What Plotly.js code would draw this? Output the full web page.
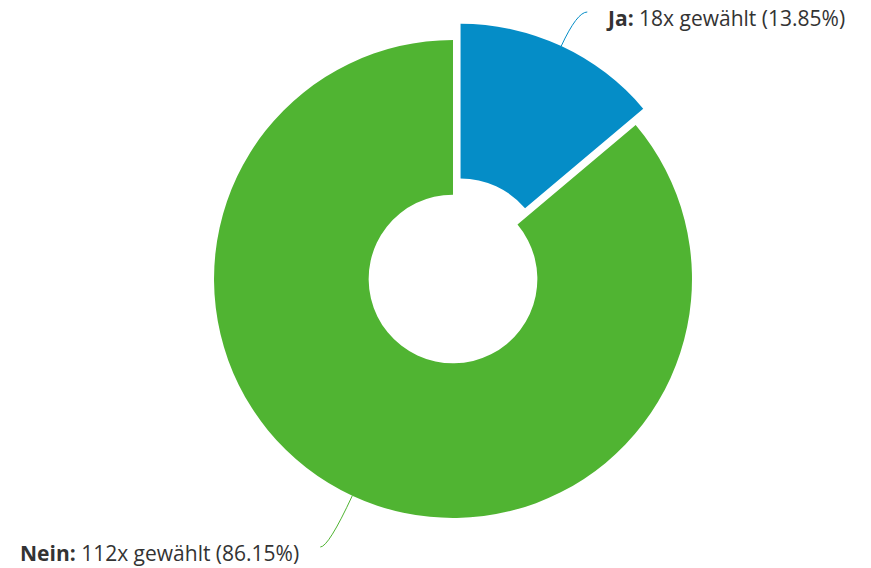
<!DOCTYPE html>
<html>
<head>
<meta charset="utf-8">
<script src="https://cdn.plot.ly/plotly-3.0.1.min.js"></script>
<style>html,body{margin:0;padding:0;background:#fff;}#chart{width:871px;height:568px;}</style>
</head>
<body>
<div id="chart"></div>
<script>
// ---- data ----
const labels = ["Ja", "Nein"];
const counts = [18, 112];
const colors = ["#058DC7", "#50B432"];
const pulls = [0.075, 0];

// ---- layout constants ----
const W = 871, H = 568;
const domX = [0.2251, 0.8151];
const domY = [0.0565, 0.9611];
const holeFrac = 0.353;
const fontFam = '"Open Sans", "DejaVu Sans", sans-serif';
// connector end offsets / label placement per slice (px)
const labelCfg = [
  {endDx: 26, endY: 12, textGap: 17, side: 1, textDy: 6},
  {endDx: -32, endY: 547, textGap: 19, side: -1, textDy: 6}
];

const total = counts.reduce((a, b) => a + b, 0);
const pct = counts.map(v => (100 * v / total).toFixed(2));

// geometry as plotly computes it
const boxW = W * (domX[1] - domX[0]);
const boxH = H * (domY[1] - domY[0]);
const maxPull = Math.max(...pulls);
const R = Math.min(boxW, boxH) / (2 + 2 * maxPull);
const CX = W * (domX[0] + domX[1]) / 2;
const CY = H * (1 - domY[0]) - boxH / 2;

const toPX = x => x / W;
const toPY = y => 1 - y / H;

const shapes = [];
const annotations = [];
let cum = 0;
counts.forEach((v, i) => {
  const mid = (cum + v / 2) / total * 2 * Math.PI; // clockwise from 12 o'clock
  cum += v;
  const dx = Math.sin(mid), dy = -Math.cos(mid);
  const pc = {x: CX + dx * R * pulls[i], y: CY + dy * R * pulls[i]};
  const s = {x: pc.x + dx * R, y: pc.y + dy * R};
  const cfg = labelCfg[i];
  const e = {x: s.x + cfg.endDx, y: cfg.endY};
  const t = (e.y - s.y) / dy;
  const c = {x: s.x + dx * t, y: e.y};
  shapes.push({
    type: "path", xref: "paper", yref: "paper",
    path: `M ${toPX(s.x)} ${toPY(s.y)} Q ${toPX(c.x)} ${toPY(c.y)} ${toPX(e.x)} ${toPY(e.y)}`,
    line: {color: colors[i], width: 1}
  });
  annotations.push({
    xref: "paper", yref: "paper",
    x: toPX(e.x + cfg.side * cfg.textGap), y: toPY(e.y + cfg.textDy),
    xanchor: cfg.side > 0 ? "left" : "right", yanchor: "middle",
    showarrow: false,
    text: `<b>${labels[i]}:</b> ${v}x gewählt (${pct[i]}%)`,
    font: {family: fontFam, size: 21, color: "#333333"}
  });
});

const trace = {
  type: "pie",
  labels: labels,
  values: counts,
  sort: false,
  direction: "clockwise",
  rotation: 0,
  hole: holeFrac,
  pull: pulls,
  textinfo: "none",
  marker: {colors: colors, line: {width: 0}},
  domain: {x: domX, y: domY},
  hoverinfo: "label+value+percent"
};

Plotly.newPlot("chart", [trace], {
  width: W, height: H,
  margin: {l: 0, r: 0, t: 0, b: 0},
  paper_bgcolor: "#ffffff",
  showlegend: false,
  shapes: shapes,
  annotations: annotations,
  font: {family: fontFam}
}, {displayModeBar: false, staticPlot: true});
</script>
</body>
</html>
